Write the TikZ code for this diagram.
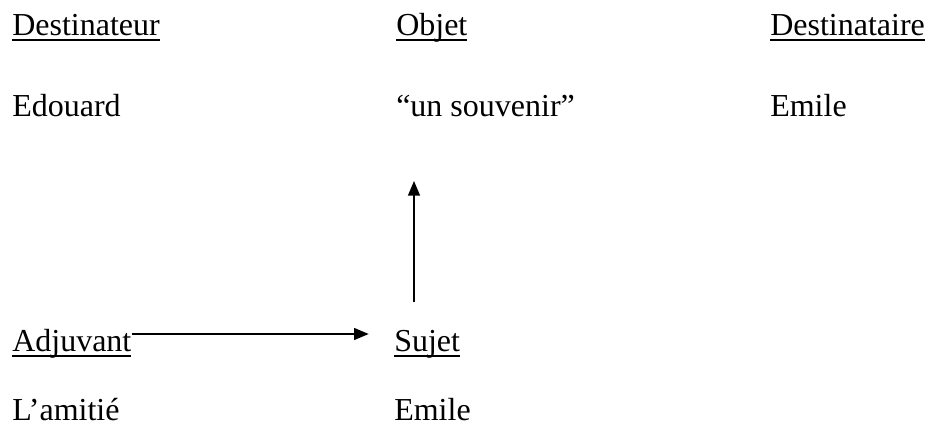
\documentclass[tikz,border=0pt]{standalone}
\usepackage{fontspec}
\setmainfont{Liberation Serif}
\usetikzlibrary{arrows.meta,positioning}

\newcommand{\ulword}[1]{\setbox0\hbox{#1}\rlap{\rule[-4pt]{\wd0}{1.4pt}}\box0}

\begin{document}
\begin{tikzpicture}[x = 0.75pt, y = -0.75pt,
                    label/.style = {anchor = base west,
                                    inner sep = 0pt,
                                    font = \fontsize{24}{28}\selectfont},
                    link/.style  = {-{Triangle[length = 11pt, width = 9pt]},
                                    line width = 1pt}]
\useasboundingbox (0,0) rectangle (928,427);

\node[label] (dest)     at (12,36)   {\ulword{Destinateur}};
\node[label] (objet)    at (396,36)  {\ulword{Objet}};
\node[label] (destre)   at (770,36)  {\ulword{Destinataire}};

\node[label] (edouard)  at (12,117)  {Edouard};
\node[label] (souvenir) at (396,117) {``un souvenir''};
\node[label] (emileA)   at (770,117) {Emile};

\node[label] (adjuvant) at (12,352)  {\ulword{Adjuvant}};
\node[label] (sujet)    at (394,352) {\ulword{Sujet}};

\node[label] (amitie)   at (12,421)  {L’amitié};
\node[label] (emileB)   at (394,421) {Emile};

\coordinate (sujetup) at (414,302);
\coordinate (objetdown) at (414,181);

\draw[link] (sujetup) -- (objetdown);
\draw[link] ([yshift = 13.5pt]adjuvant.base east) -- ([xshift = -19pt, yshift = 13.5pt]sujet.base west);

\end{tikzpicture}
\end{document}
